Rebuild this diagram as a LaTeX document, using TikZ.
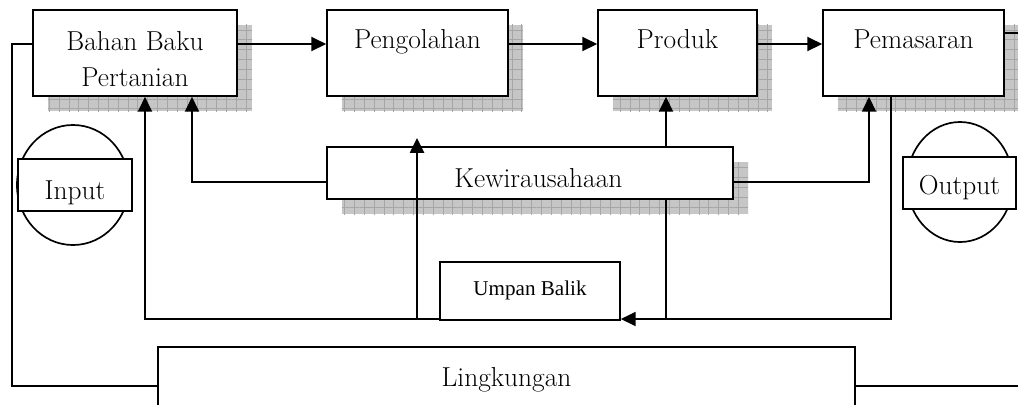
\documentclass[tikz,border=0pt]{standalone}
\usepackage{fontspec}
\newfontfamily\umpanfont{Liberation Serif}
\usetikzlibrary{shadows,patterns.meta,arrows.meta,shapes.geometric}
\tikzset{
  garis/.style={line width=1.2pt},
  blok/.style={draw, line width=1.2pt, fill=white, align=center, inner sep=0pt, font=\fontsize{19.5}{26.2}\selectfont},
  bayang/.style={drop shadow={shadow xshift=0.375cm, shadow yshift=-0.375cm, opacity=1, fill=gray!45,
      postaction={pattern={Hatch[angle=0,distance=7pt,line width=0.5pt]}, pattern color=gray!70}}},
  lingkaran/.style={draw, ellipse, line width=1.2pt, fill=white},
  panah/.style={-{Triangle[length=10.5pt,width=10pt]}},
}

\begin{document}
\begin{tikzpicture}[x=0.025cm, y=-0.025cm, garis]
  \useasboundingbox (0,0) rectangle (1018,404);
  % kotak atas
  \node[blok, bayang, minimum width=5.1cm, minimum height=2.15cm, text height=50pt, text depth=1.8pt] (bahan) at (135,53) {Bahan Baku\\Pertanian};
  \node[blok, bayang, minimum width=4.525cm, minimum height=2.15cm, text height=12pt, text depth=17.7pt] (peng) at (417.5,53) {Pengolahan};
  \node[blok, bayang, minimum width=3.975cm, minimum height=2.15cm, text height=12pt, text depth=17.7pt] (produk) at (677.5,53) {Produk};
  \node[blok, bayang, minimum width=4.525cm, minimum height=2.15cm, text height=12pt, text depth=17.7pt] (pemas) at (913.5,53) {Pemasaran};
  % tengah
  \node[blok, bayang, minimum width=10.15cm, minimum height=1.3cm, text height=20pt, text depth=0pt] (kewira) at (530,173) {\hspace*{12pt}Kewirausahaan};
  \node[lingkaran, minimum width=2.8cm, minimum height=3cm] (incirc) at (73,185) {};
  \node[blok, minimum width=2.85cm, minimum height=1.3cm, text height=20pt, text depth=0pt] (inbox) at (75,185) {Input};
  \node[lingkaran, minimum width=2.65cm, minimum height=3cm] (outcirc) at (960,182) {};
  \node[blok, minimum width=2.825cm, minimum height=1.3cm, text height=16pt, text depth=0pt] (outbox) at (959.5,183) {Output};
  % bawah
  \node[blok, minimum width=4.5cm, minimum height=1.45cm, text height=10pt, text depth=3pt, font=\umpanfont\fontsize{15}{17}\selectfont] (umpan) at (530,291) {Umpan Balik};
  \node[blok, minimum width=17.425cm, minimum height=1.5cm, text height=14pt, text depth=0pt] (lingk) at (506.5,377) {Lingkungan};

  \coordinate (baris) at (0,44);
  \coordinate (kiri) at (12,386);
  \coordinate (kanan) at (1018,386);
  \coordinate (atasKanan) at (1018,33);
  \coordinate (kwA) at (192,182);
  \coordinate (kwB) at (869,182);
  \coordinate (fbA) at (145,319);
  \coordinate (fbB) at (417,319);
  \coordinate (fbC) at (666,319);
  \coordinate (fbD) at (891,319);
  \coordinate (ujung) at (417,138);

  % alur utama
  \draw[panah] (bahan.east |- baris) -- (peng.west |- baris);
  \draw[panah] (peng.east |- baris) -- (produk.west |- baris);
  \draw[panah] (produk.east |- baris) -- (pemas.west |- baris);
  \draw (bahan.west |- baris) -| (kiri) -- (lingk.west |- kiri);
  \draw (lingk.east |- kanan) -- (kanan);
  \draw (pemas.east |- atasKanan) -- (atasKanan);
  % kewirausahaan
  \draw[panah] (kewira.west |- kwA) -| (bahan.south -| kwA);
  \draw[panah] (kewira.east |- kwB) -| (pemas.south -| kwB);
  % umpan balik
  \draw[panah] (pemas.south -| fbD) -- (fbD) -- (umpan.east |- fbD);
  \draw[panah] (umpan.west |- fbA) -- (fbA) -- (bahan.south -| fbA);
  \draw[panah] (fbB) -- (ujung);
  \draw (fbC) -- (kewira.south -| fbC);
  \draw[panah] (kewira.north -| fbC) -- (produk.south -| fbC);
\end{tikzpicture}
\end{document}
